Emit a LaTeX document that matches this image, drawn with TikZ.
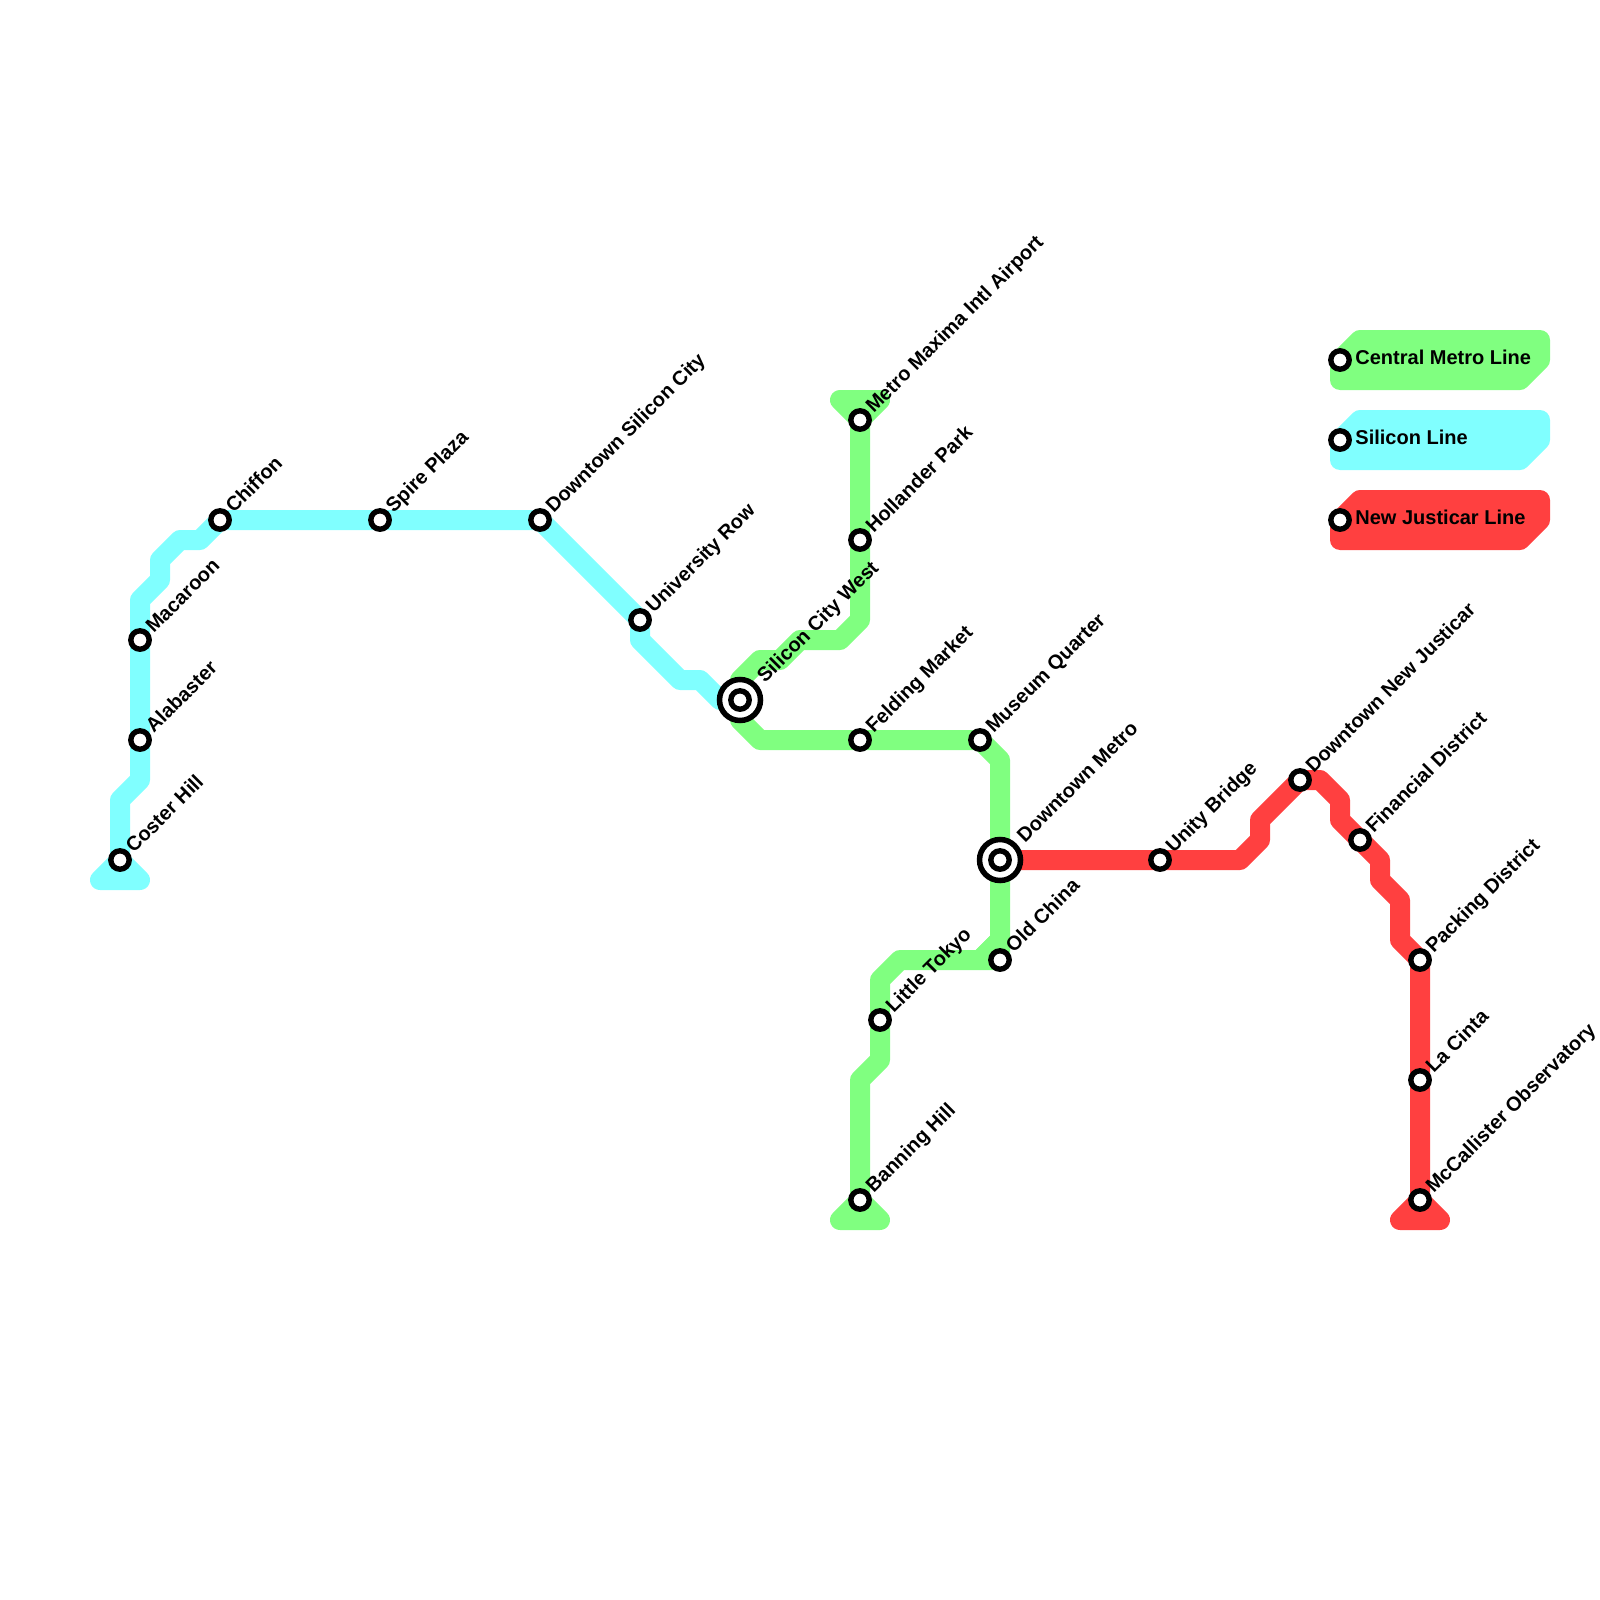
\documentclass[tikz,border=0pt]{standalone}
\usepackage{fontspec}
\setmainfont{Liberation Sans}
\usetikzlibrary{backgrounds}
\definecolor{centralline}{RGB}{128, 255, 128}
\definecolor{siliconline}{RGB}{128, 255, 255}
\definecolor{justicarline}{RGB}{255, 64, 64}
\tikzset{
	metroline/.style={line width=10pt, line join=round},
	stop/.style={circle, draw=black, fill=white, line width=2.7pt, minimum size=9.2pt, inner sep=0pt},
	hub/.style={circle, draw=black, fill=white, line width=2.75pt, minimum size=20.5pt, inner sep=0pt},
	stoptext/.style={font=\fontsize{10}{12}\selectfont\bfseries, rotate=45, anchor=base west, inner sep=0pt, xshift=6.9pt, yshift=-2.75pt},
	hubtext/.style={stoptext, xshift=7.5pt, yshift=-0.4pt},
	keytext/.style={font=\fontsize{10}{12}\selectfont\bfseries, anchor=base west, inner sep=0pt, xshift=7.5pt, yshift=-2.2pt},
}
\begin{document}
\begin{tikzpicture}[x=0.5pt, y=-0.5pt]
			\useasboundingbox (0,0) rectangle (1600,1600);

			% Silicon Line stops
			\node[stop] (coster) at (120,860) {};
			\node[stoptext] (costertext) at (coster) {Coster Hill};
			\node[stop] (alabaster) at (140,740) {};
			\node[stoptext] (alabastertext) at (alabaster) {Alabaster};
			\node[stop] (macaroon) at (140,640) {};
			\node[stoptext] (macaroontext) at (macaroon) {Macaroon};
			\node[stop] (chiffon) at (220,520) {};
			\node[stoptext] (chiffontext) at (chiffon) {Chiffon};
			\node[stop] (spire) at (380,520) {};
			\node[stoptext] (spiretext) at (spire) {Spire Plaza};
			\node[stop] (dtsilicon) at (540,520) {};
			\node[stoptext] (dtsilicontext) at (dtsilicon) {Downtown Silicon City};
			\node[stop] (university) at (640,620) {};
			\node[stoptext] (universitytext) at (university) {University Row};

			% Central Metro Line stops
			\node[stop] (airport) at (860,420) {};
			\node[stoptext] (airporttext) at (airport) {Metro Maxima Intl Airport};
			\node[stop] (hollander) at (860,540) {};
			\node[stoptext] (hollandertext) at (hollander) {Hollander Park};
			\node[hub] (scwest) at (740,700) {};
			\node[stop] (scwestdot) at (scwest) {};
			\node[hubtext] (scwesttext) at (scwest) {Silicon City West};
			\node[stop] (felding) at (860,740) {};
			\node[stoptext] (feldingtext) at (felding) {Felding Market};
			\node[stop] (museum) at (980,740) {};
			\node[stoptext] (museumtext) at (museum) {Museum Quarter};
			\node[hub] (dtmetro) at (1000,860) {};
			\node[stop] (dtmetrodot) at (dtmetro) {};
			\node[hubtext] (dtmetrotext) at (dtmetro) {Downtown Metro};
			\node[stop] (oldchina) at (1000,960) {};
			\node[stoptext] (oldchinatext) at (oldchina) {Old China};
			\node[stop] (tokyo) at (880,1020) {};
			\node[stoptext] (tokyotext) at (tokyo) {Little Tokyo};
			\node[stop] (banning) at (860,1200) {};
			\node[stoptext] (banningtext) at (banning) {Banning Hill};

			% New Justicar Line stops
			\node[stop] (unity) at (1160,860) {};
			\node[stoptext] (unitytext) at (unity) {Unity Bridge};
			\node[stop] (dtjusticar) at (1300,780) {};
			\node[stoptext] (dtjusticartext) at (dtjusticar) {Downtown New Justicar};
			\node[stop] (financial) at (1360,840) {};
			\node[stoptext] (financialtext) at (financial) {Financial District};
			\node[stop] (packing) at (1420,960) {};
			\node[stoptext] (packingtext) at (packing) {Packing District};
			\node[stop] (lacinta) at (1420,1080) {};
			\node[stoptext] (lacintatext) at (lacinta) {La Cinta};
			\node[stop] (mccallister) at (1420,1200) {};
			\node[stoptext] (mccallistertext) at (mccallister) {McCallister Observatory};

			% Key
			\node[stop] (keycentral) at (1340,360) {};
			\node[keytext] (keycentraltext) at (keycentral) {Central Metro Line};
			\node[stop] (keysilicon) at (1340,440) {};
			\node[keytext] (keysilicontext) at (keysilicon) {Silicon Line};
			\node[stop] (keyjusticar) at (1340,520) {};
			\node[keytext] (keyjusticartext) at (keyjusticar) {New Justicar Line};

			\begin{scope}[on background layer]
				% Silicon Line
				\filldraw[metroline, draw=siliconline, fill=siliconline] (100,880) -- (140,880) -- (coster.center) -- cycle;
				\draw[metroline, siliconline] (coster.center) -- (120,800) -- (140,780) -- (alabaster.center) -- (macaroon.center) -- (140,600) -- (160,580) -- (160,560) -- (180,540) -- (200,540) -- (chiffon.center) -- (spire.center) -- (dtsilicon.center) -- (university.center) -- (640,640) -- (680,680) -- (700,680) -- (720,700) -- (scwest.center);

				% Central Metro Line
				\filldraw[metroline, draw=centralline, fill=centralline] (840,400) -- (880,400) -- (airport.center) -- cycle;
				\draw[metroline, centralline] (airport.center) -- (hollander.center) -- (860,620) -- (840,640) -- (800,640) -- (780,660) -- (760,660) -- (740,680) -- (scwest.center) -- (740,720) -- (760,740) -- (felding.center) -- (museum.center) -- (1000,760) -- (dtmetro.center) -- (1000,940) -- (980,960) -- (900,960) -- (880,980) -- (tokyo.center) -- (880,1060) -- (860,1080) -- (banning.center);
				\filldraw[metroline, draw=centralline, fill=centralline] (1000,940) -- (oldchina.center) -- (980,960) -- cycle;
				\filldraw[metroline, draw=centralline, fill=centralline] (840,1220) -- (880,1220) -- (banning.center) -- cycle;

				% New Justicar Line
				\draw[metroline, justicarline] (dtmetro.center) -- (unity.center) -- (1240,860) -- (1260,840) -- (1260,820) -- (dtjusticar.center) -- (1320,780) -- (1340,800) -- (1340,820) -- (financial.center) -- (1380,860) -- (1380,880) -- (1400,900) -- (1400,940) -- (packing.center) -- (lacinta.center) -- (mccallister.center);
				\filldraw[metroline, draw=justicarline, fill=justicarline] (1400,1220) -- (1440,1220) -- (mccallister.center) -- cycle;

				% Key blocks
				\filldraw[metroline, draw=centralline, fill=centralline] (1340,380) -- (1340,360) -- (1360,340) -- (1540,340) -- (1540,360) -- (1520,380) -- cycle;
				\filldraw[metroline, draw=siliconline, fill=siliconline] (1340,460) -- (1340,440) -- (1360,420) -- (1540,420) -- (1540,440) -- (1520,460) -- cycle;
				\filldraw[metroline, draw=justicarline, fill=justicarline] (1340,540) -- (1340,520) -- (1360,500) -- (1540,500) -- (1540,520) -- (1520,540) -- cycle;
			\end{scope}

		\end{tikzpicture}
\end{document}
